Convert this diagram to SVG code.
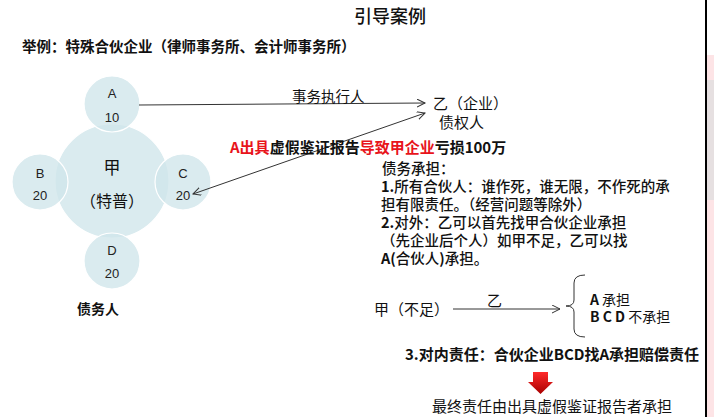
<svg xmlns="http://www.w3.org/2000/svg" width="714" height="417" viewBox="0 0 714 417">
<defs>
<style>
.cjk{font-family:"Noto Sans CJK SC","Liberation Sans",sans-serif;fill:#111}
.b{font-weight:bold}
.m{font-weight:500}
.red{fill:#e8141b}
.lat{font-family:"Liberation Sans",Arial,sans-serif;fill:#222}
.circ{fill:#cfe6ea;fill-opacity:0.78;stroke:#ffffff;stroke-width:1.2}
.conn{fill:none;stroke:#333;stroke-width:1}
</style>
<marker id="ah" markerWidth="10" markerHeight="10" refX="8" refY="4" orient="auto-start-reverse" markerUnits="userSpaceOnUse">
<path d="M0,0 L8,4 L0,8" fill="none" stroke="#333" stroke-width="1"/>
</marker>
<linearGradient id="rg" x1="0" y1="0" x2="0" y2="1">
<stop offset="0" stop-color="#ff2a2a"/>
<stop offset="1" stop-color="#a80000"/>
</linearGradient>
</defs>
<rect width="714" height="417" fill="#ffffff"/>

<!-- right edge decoration -->
<rect x="707" y="0" width="7" height="417" fill="#fde4e6"/>
<rect x="707" y="80" width="7" height="120" fill="#e6e0e1"/>
<rect x="707" y="0" width="7" height="55" fill="#ffffff"/>
<line x1="706" y1="0" x2="706" y2="417" stroke="#000" stroke-width="2"/>

<text class="cjk m" x="390" y="23" font-size="18" text-anchor="middle">引导案例</text>
<text class="cjk b" x="22" y="52" font-size="14.5">举例：特殊合伙企业（律师事务所、会计师事务所）</text>

<g id="jia">
<circle class="circ" cx="112" cy="181" r="57"/>
<text class="cjk" x="112" y="174" font-size="17" text-anchor="middle" fill="#333">甲</text>
<text class="cjk" x="112" y="207" font-size="16" text-anchor="middle" fill="#333">（特普）</text>
</g>
<g id="A">
<circle class="circ" cx="112" cy="104" r="28"/>
<text class="lat" x="112" y="98" font-size="13" text-anchor="middle">A</text>
<text class="lat" x="112" y="122" font-size="13" text-anchor="middle">10</text>
</g>
<g id="B">
<circle class="circ" cx="40" cy="182" r="28"/>
<text class="lat" x="40" y="178" font-size="13" text-anchor="middle">B</text>
<text class="lat" x="40" y="200" font-size="13" text-anchor="middle">20</text>
</g>
<g id="C">
<circle class="circ" cx="183" cy="182" r="28"/>
<text class="lat" x="183" y="178" font-size="13" text-anchor="middle">C</text>
<text class="lat" x="183" y="200" font-size="13" text-anchor="middle">20</text>
</g>
<g id="D">
<circle class="circ" cx="112" cy="261" r="28"/>
<text class="lat" x="112" y="255" font-size="13" text-anchor="middle">D</text>
<text class="lat" x="112" y="278" font-size="13" text-anchor="middle">20</text>
</g>
<text class="cjk b" x="77" y="314" font-size="14">债务人</text>

<g id="yi">
<text class="cjk" x="433" y="109" font-size="15">乙（企业）</text>
<text class="cjk" x="439" y="128" font-size="15">债权人</text>
</g>

<g id="connectors">
<line class="conn" x1="139" y1="105" x2="425" y2="103" marker-end="url(#ah)"/>
<line class="conn" x1="425" y1="113" x2="193" y2="194" marker-start="url(#ah)" marker-end="url(#ah)"/>
<line class="conn" x1="453" y1="309" x2="560" y2="309" marker-end="url(#ah)"/>
<path class="conn" d="M585,275 Q574,275 574,283 L574,300 Q574,306 566,306 Q574,306 574,312 L574,329 Q574,337 585,337" stroke="#555"/>
</g>

<text class="cjk" x="292" y="102" font-size="14.5">事务执行人</text>

<text class="cjk b" x="230" y="153" font-size="15"><tspan class="red">A出具</tspan><tspan>虚假鉴证报告</tspan><tspan class="red">导致甲企业</tspan><tspan>亏损100万</tspan></text>

<g class="cjk m" font-size="14.5">
<text x="382" y="174">债务承担：</text>
<text x="381" y="192"><tspan class="b">1.</tspan>所有合伙人：谁作死，谁无限，不作死的承</text>
<text x="381" y="210">担有限责任。（经营问题等除外）</text>
<text x="381" y="228"><tspan class="b">2.</tspan>对外：乙可以首先找甲合伙企业承担</text>
<text x="381" y="246">（先企业后个人）如甲不足，乙可以找</text>
<text x="381" y="264"><tspan class="b">A(</tspan>合伙人<tspan class="b">)</tspan>承担。</text>
</g>

<text class="cjk" x="374" y="315" font-size="15">甲（不足）</text>
<text class="cjk" x="487" y="306" font-size="15">乙</text>
<text class="cjk" x="590" y="305" font-size="14"><tspan class="b">A</tspan> 承担</text>
<text class="cjk" x="590" y="322" font-size="14"><tspan class="b">B C D</tspan> 不承担</text>

<text class="cjk b" x="405" y="360" font-size="15">3.对内责任：合伙企业BCD找A承担赔偿责任</text>

<path d="M533,372 L548,372 L548,382 L553,382 L540.5,394 L528,382 L533,382 Z" fill="url(#rg)"/>

<text class="cjk" x="432" y="412" font-size="15">最终责任由出具虚假鉴证报告者承担</text>
</svg>
